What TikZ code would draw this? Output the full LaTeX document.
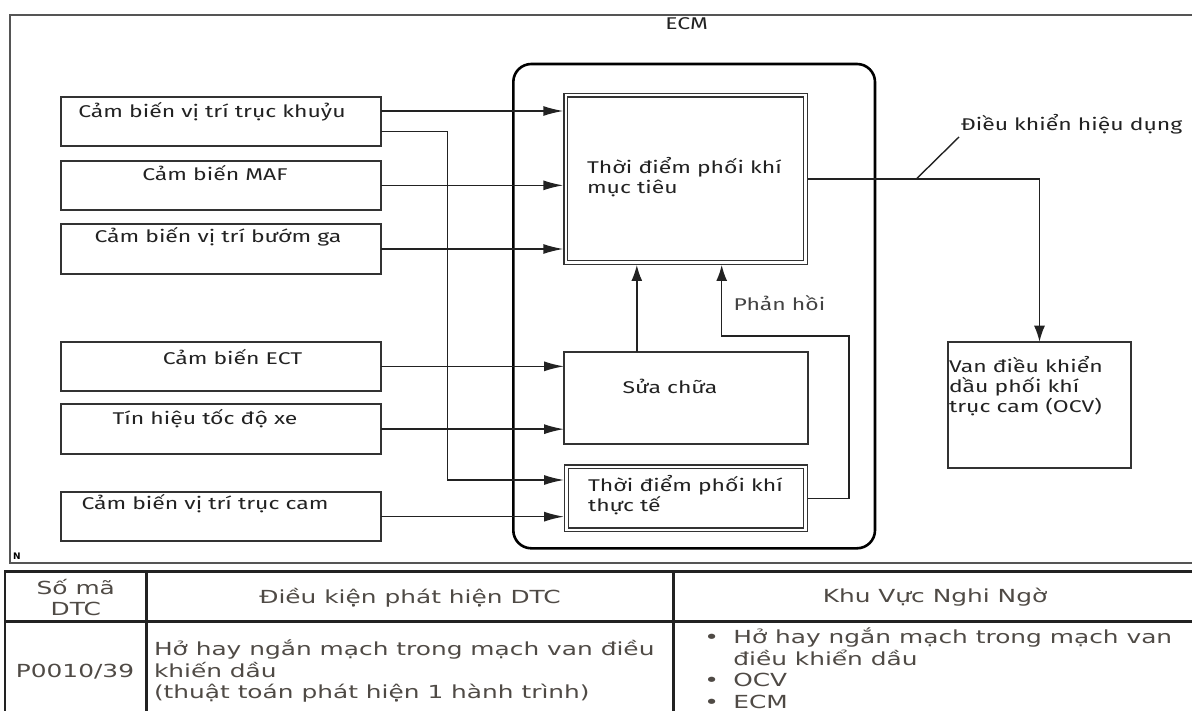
\documentclass[tikz,border=0pt]{standalone}
\usepackage{fontspec}
\usetikzlibrary{arrows.meta,calc}
\newfontfamily\dfont[FakeStretch=1.35]{Fira Sans}
\newfontfamily\tfont[FakeStretch=1.38]{DejaVu Sans}
\newfontfamily\nfont{DejaVu Sans}
\definecolor{ink}{HTML}{222222}
\definecolor{tink}{HTML}{4F4A45}
\definecolor{boxline}{HTML}{333333}
\definecolor{frameline}{HTML}{555555}
\begin{document}
\begin{tikzpicture}[x=1pt,y=-1pt,
  every node/.style={outer sep=0pt},
  dtext/.style={font=\dfont\fontsize{17}{20}\selectfont, text=ink, inner sep=0pt},
  ttext/.style={font=\tfont\fontsize{18}{21.5}\selectfont, text=tink, inner sep=0pt},
  sensor/.style={draw=boxline, line width=2pt, minimum width=320.5pt, minimum height=49.5pt, inner sep=0pt},
  dbox/.style={draw=boxline, double, double distance=2.4pt, line width=1.3pt, inner sep=0pt},
  sbox/.style={draw=boxline, line width=1.8pt, inner sep=0pt},
  conn/.style={draw=ink, line width=1.4pt},
  harr/.style={conn, -{Latex[length=20pt,width=10pt]}},
  varr/.style={conn, -{Latex[length=16pt,width=11pt]}},
  tline/.style={draw=ink, line width=2.6pt},
]
\useasboundingbox (0,0) rectangle (1192,711);
\clip (0,0) rectangle (1192,711);

% outer frame
\draw[draw=frameline, line width=1.4pt] (1200,15) -- (10,15) -- (10,563) -- (1200,563);
\node[font=\nfont\bfseries\fontsize{9}{9}\selectfont, inner sep=0pt] (nmark) at (17,556) {N};

% ECM
\node[draw=black, line width=2.6pt, rounded corners=18pt, minimum width=361.7pt, minimum height=484.3pt, inner sep=0pt] (ecm) at (694.15,306.15) {};
\node[dtext] (ecmlbl) at (686.7,24) {ECM};

% sensors
\node[sensor] (s1) at (220.75,121.5) {};
\node[sensor] (s2) at (220.75,185.35) {};
\node[sensor] (s3) at (220.75,249) {};
\node[sensor] (s4) at (220.75,366.35) {};
\node[sensor] (s5) at (220.75,429.15) {};
\node[sensor] (s6) at (220.75,516.65) {};
\node[dtext] (s1t) at (212,111.7) {Cảm biến vị trí trục khuỷu};
\node[dtext] (s2t) at (215,173) {Cảm biến MAF};
\node[dtext] (s3t) at (218,237) {Cảm biến vị trí bướm ga};
\node[dtext] (s4t) at (232.5,356.7) {Cảm biến ECT};
\node[dtext] (s5t) at (205,419) {Tín hiệu tốc độ xe};
\node[dtext] (s6t) at (205,504) {Cảm biến vị trí trục cam};

% inner boxes
\node[dbox, minimum width=239.7pt, minimum height=167.3pt] (tgt) at (685.65,178.85) {};
\node[dtext, anchor=west, align=left] (tgtt) at (587,177) {Thời điểm phối khí\\mục tiêu};
\node[sbox, minimum width=243.6pt, minimum height=92.3pt] (sua) at (685.8,397.85) {};
\node[dtext] (suat) at (670,386) {Sửa chữa};
\node[dbox, minimum width=239pt, minimum height=63pt] (act) at (686,498.3) {};
\node[dtext, anchor=west, align=left] (actt) at (588,495.5) {Thời điểm phối khí\\thực tế};

% OCV
\node[sbox, minimum width=183pt, minimum height=126pt] (ocv) at (1039.5,404.7) {};
\node[dtext, anchor=west, align=left] (ocvt) at (949,386) {Van điều khiển\\dầu phối khí\\trục cam (OCV)};

% labels
\node[dtext] (lbl) at (1071.5,124) {Điều khiển hiệu dụng};
\node[dtext, text=ink!85] (fbl) at (779.5,302.7) {Phản hồi};

% connectors sensors -> ECM
\draw[harr, shorten >=2.5pt] ([yshift=10.5pt]s1.east) coordinate (a1) -- (a1 -| tgt.west);
\draw[harr, shorten >=2.5pt] (s2.east) -- (s2.east -| tgt.west);
\draw[harr, shorten >=2.5pt] (s3.east) -- (s3.east -| tgt.west);
\coordinate (br) at (447.7,480);
\draw[harr, shorten >=2.5pt] ([yshift=-10.2pt]s1.east) -| (br) -- (br -| act.west);
\draw[harr] (s4.east) -- (s4.east -| sua.west);
\draw[harr] (s5.east) -- (s5.east -| sua.west);
\draw[harr, shorten >=2.5pt] (s6.east) -- (s6.east -| act.west);

% internal
\draw[varr, shorten >=2.5pt] ([xshift=-49pt]sua.north) coordinate (u1) -- (u1 |- tgt.south);
\coordinate (fbr) at (849,336);
\coordinate (fbL) at (721.7,336);
\draw[varr, shorten >=2.5pt] ([xshift=2.5pt]act.east) -| (fbr) -- (fbL) -- (fbL |- tgt.south);

% output
\draw[varr] ([xshift=2.5pt]tgt.east) -| (ocv.north);
\coordinate (ldA) at (916,179.3);
\coordinate (ldB) at (959,137);
\draw[conn] (ldA) -- (ldB);

% table
\draw[tline] (5,571.7) -- (1200,571.7);
\draw[tline] (5,621.7) -- (1200,621.7);
\draw[tline] (5,570.4) -- (5,720);
\draw[tline] (146.7,571.7) -- (146.7,720);
\draw[tline] (673.3,571.7) -- (673.3,720);

\node[ttext, align=center] (h1) at (75.8,597.3) {Số mã\\DTC};
\node[ttext] (h2) at (410,597.3) {Điều kiện phát hiện DTC};
\node[ttext] (h3) at (935,597.3) {Khu Vực Nghi Ngờ};
\node[ttext] (c1) at (75,671.7) {P0010/39};
\node[ttext, anchor=west, align=left] (c2) at (154,671) {Hở hay ngắn mạch trong mạch van điều\\khiến dầu\\(thuật toán phát hiện 1 hành trình)};
\node[ttext, anchor=west] (c3) at (704.4,671) {\begin{tabular}{@{}l@{\hspace{14.3pt}}l@{}}•&Hở hay ngắn mạch trong mạch van\\&điều khiển dầu\\•&OCV\\•&ECM\end{tabular}};
\end{tikzpicture}
\end{document}
